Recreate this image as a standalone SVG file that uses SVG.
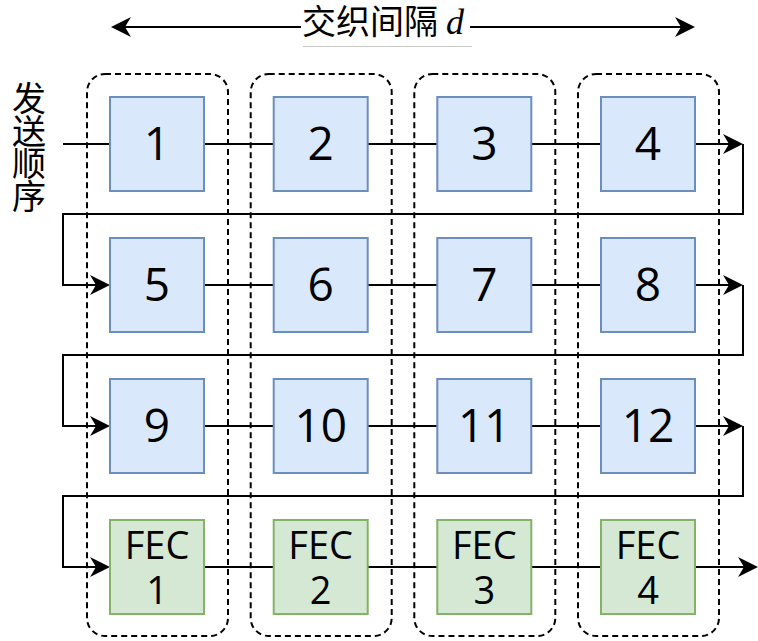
<svg xmlns="http://www.w3.org/2000/svg" width="758" height="641" viewBox="0 0 758 641">
<style>
.grp{fill:none;stroke:#000;stroke-width:2;stroke-dasharray:6 4}
.blue{fill:#dae8fc;stroke:#6c8ebf;stroke-width:2}
.green{fill:#d5e8d4;stroke:#82b366;stroke-width:2}
.num{font-family:"Open Sans","Noto Sans",sans-serif;font-size:46px;fill:#000;text-anchor:middle}
.fec{font-family:"Open Sans","Noto Sans",sans-serif;font-size:38px;fill:#000;text-anchor:middle}
.cjk{font-family:"Noto Sans CJK SC",sans-serif;font-size:34px;fill:#000}
.side{font-family:"Noto Sans CJK SC",sans-serif;font-size:34px;fill:#000;text-anchor:middle}
.ln{fill:none;stroke:#000;stroke-width:2}
.arr{fill:none;stroke:#000;stroke-width:2;marker-end:url(#ah)}
</style>
<defs>
<marker id="ah" markerUnits="userSpaceOnUse" markerWidth="20" markerHeight="20" viewBox="0 0 20 20" refX="6" refY="10" orient="auto-start-reverse">
<path d="M0,0 L20,10 L0,20 L6,10 z" fill="#000"/>
</marker>
</defs>
<rect width="758" height="641" fill="#fff"/>
<g id="groups">
<rect class="grp" x="87" y="74" width="141" height="562" rx="18"/>
<rect class="grp" x="250.7" y="74" width="141" height="562" rx="18"/>
<rect class="grp" x="414.3" y="74" width="141" height="562" rx="18"/>
<rect class="grp" x="578" y="74" width="141" height="562" rx="18"/>
</g>
<g id="connectors">
<path class="ln" d="M63,144 H110"/>
<path class="ln" d="M204,144 H273.7 M367.7,144 H437.3 M531.3,144 H601"/>
<path class="arr" d="M695,144 H729"/>
<path class="arr" d="M743,144 V214 H63 V285 H96"/>
<path class="ln" d="M204,285 H273.7 M367.7,285 H437.3 M531.3,285 H601"/>
<path class="arr" d="M695,285 H729"/>
<path class="arr" d="M743,285 V355 H63 V426 H96"/>
<path class="ln" d="M204,426 H273.7 M367.7,426 H437.3 M531.3,426 H601"/>
<path class="arr" d="M695,426 H729"/>
<path class="arr" d="M743,426 V496 H63 V567 H96"/>
<path class="ln" d="M204,567 H273.7 M367.7,567 H437.3 M531.3,567 H601"/>
<path class="arr" d="M695,567 H744"/>
</g>
<g id="interval">
<path d="M125,27 H681" fill="none" stroke="#000" stroke-width="2" marker-start="url(#ah)" marker-end="url(#ah)"/>
<rect x="301" y="4" width="169" height="41" fill="#fff"/>
<line x1="303" y1="46.5" x2="472" y2="46.5" stroke="#c8c8c8" stroke-width="1"/>
<text class="cjk" x="302" y="34">交织间隔</text>
<text x="446" y="34" font-family="Liberation Serif,serif" font-style="italic" font-size="36px" fill="#000">d</text>
</g>
<g id="order-label">
<text class="side" dominant-baseline="central"><tspan x="29" y="96">发</tspan><tspan x="29" y="128.5">送</tspan><tspan x="29" y="161">顺</tspan><tspan x="29" y="193.5">序</tspan></text>
</g>
<g id="n1"><rect class="blue" x="110" y="97" width="94" height="94"/><text class="num" x="157" y="160">1</text></g>
<g id="n2"><rect class="blue" x="273.7" y="97" width="94" height="94"/><text class="num" x="320.7" y="160">2</text></g>
<g id="n3"><rect class="blue" x="437.3" y="97" width="94" height="94"/><text class="num" x="484.3" y="160">3</text></g>
<g id="n4"><rect class="blue" x="601" y="97" width="94" height="94"/><text class="num" x="648" y="160">4</text></g>
<g id="n5"><rect class="blue" x="110" y="238" width="94" height="94"/><text class="num" x="157" y="301">5</text></g>
<g id="n6"><rect class="blue" x="273.7" y="238" width="94" height="94"/><text class="num" x="320.7" y="301">6</text></g>
<g id="n7"><rect class="blue" x="437.3" y="238" width="94" height="94"/><text class="num" x="484.3" y="301">7</text></g>
<g id="n8"><rect class="blue" x="601" y="238" width="94" height="94"/><text class="num" x="648" y="301">8</text></g>
<g id="n9"><rect class="blue" x="110" y="379" width="94" height="94"/><text class="num" x="157" y="442">9</text></g>
<g id="n10"><rect class="blue" x="273.7" y="379" width="94" height="94"/><text class="num" x="320.7" y="442">10</text></g>
<g id="n11"><rect class="blue" x="437.3" y="379" width="94" height="94"/><text class="num" x="484.3" y="442">11</text></g>
<g id="n12"><rect class="blue" x="601" y="379" width="94" height="94"/><text class="num" x="648" y="442">12</text></g>
<g id="fec1"><rect class="green" x="110" y="520" width="94" height="94"/><text class="fec" x="157" y="559">FEC</text><text class="fec" x="157" y="604">1</text></g>
<g id="fec2"><rect class="green" x="273.7" y="520" width="94" height="94"/><text class="fec" x="320.7" y="559">FEC</text><text class="fec" x="320.7" y="604">2</text></g>
<g id="fec3"><rect class="green" x="437.3" y="520" width="94" height="94"/><text class="fec" x="484.3" y="559">FEC</text><text class="fec" x="484.3" y="604">3</text></g>
<g id="fec4"><rect class="green" x="601" y="520" width="94" height="94"/><text class="fec" x="648" y="559">FEC</text><text class="fec" x="648" y="604">4</text></g>
</svg>
